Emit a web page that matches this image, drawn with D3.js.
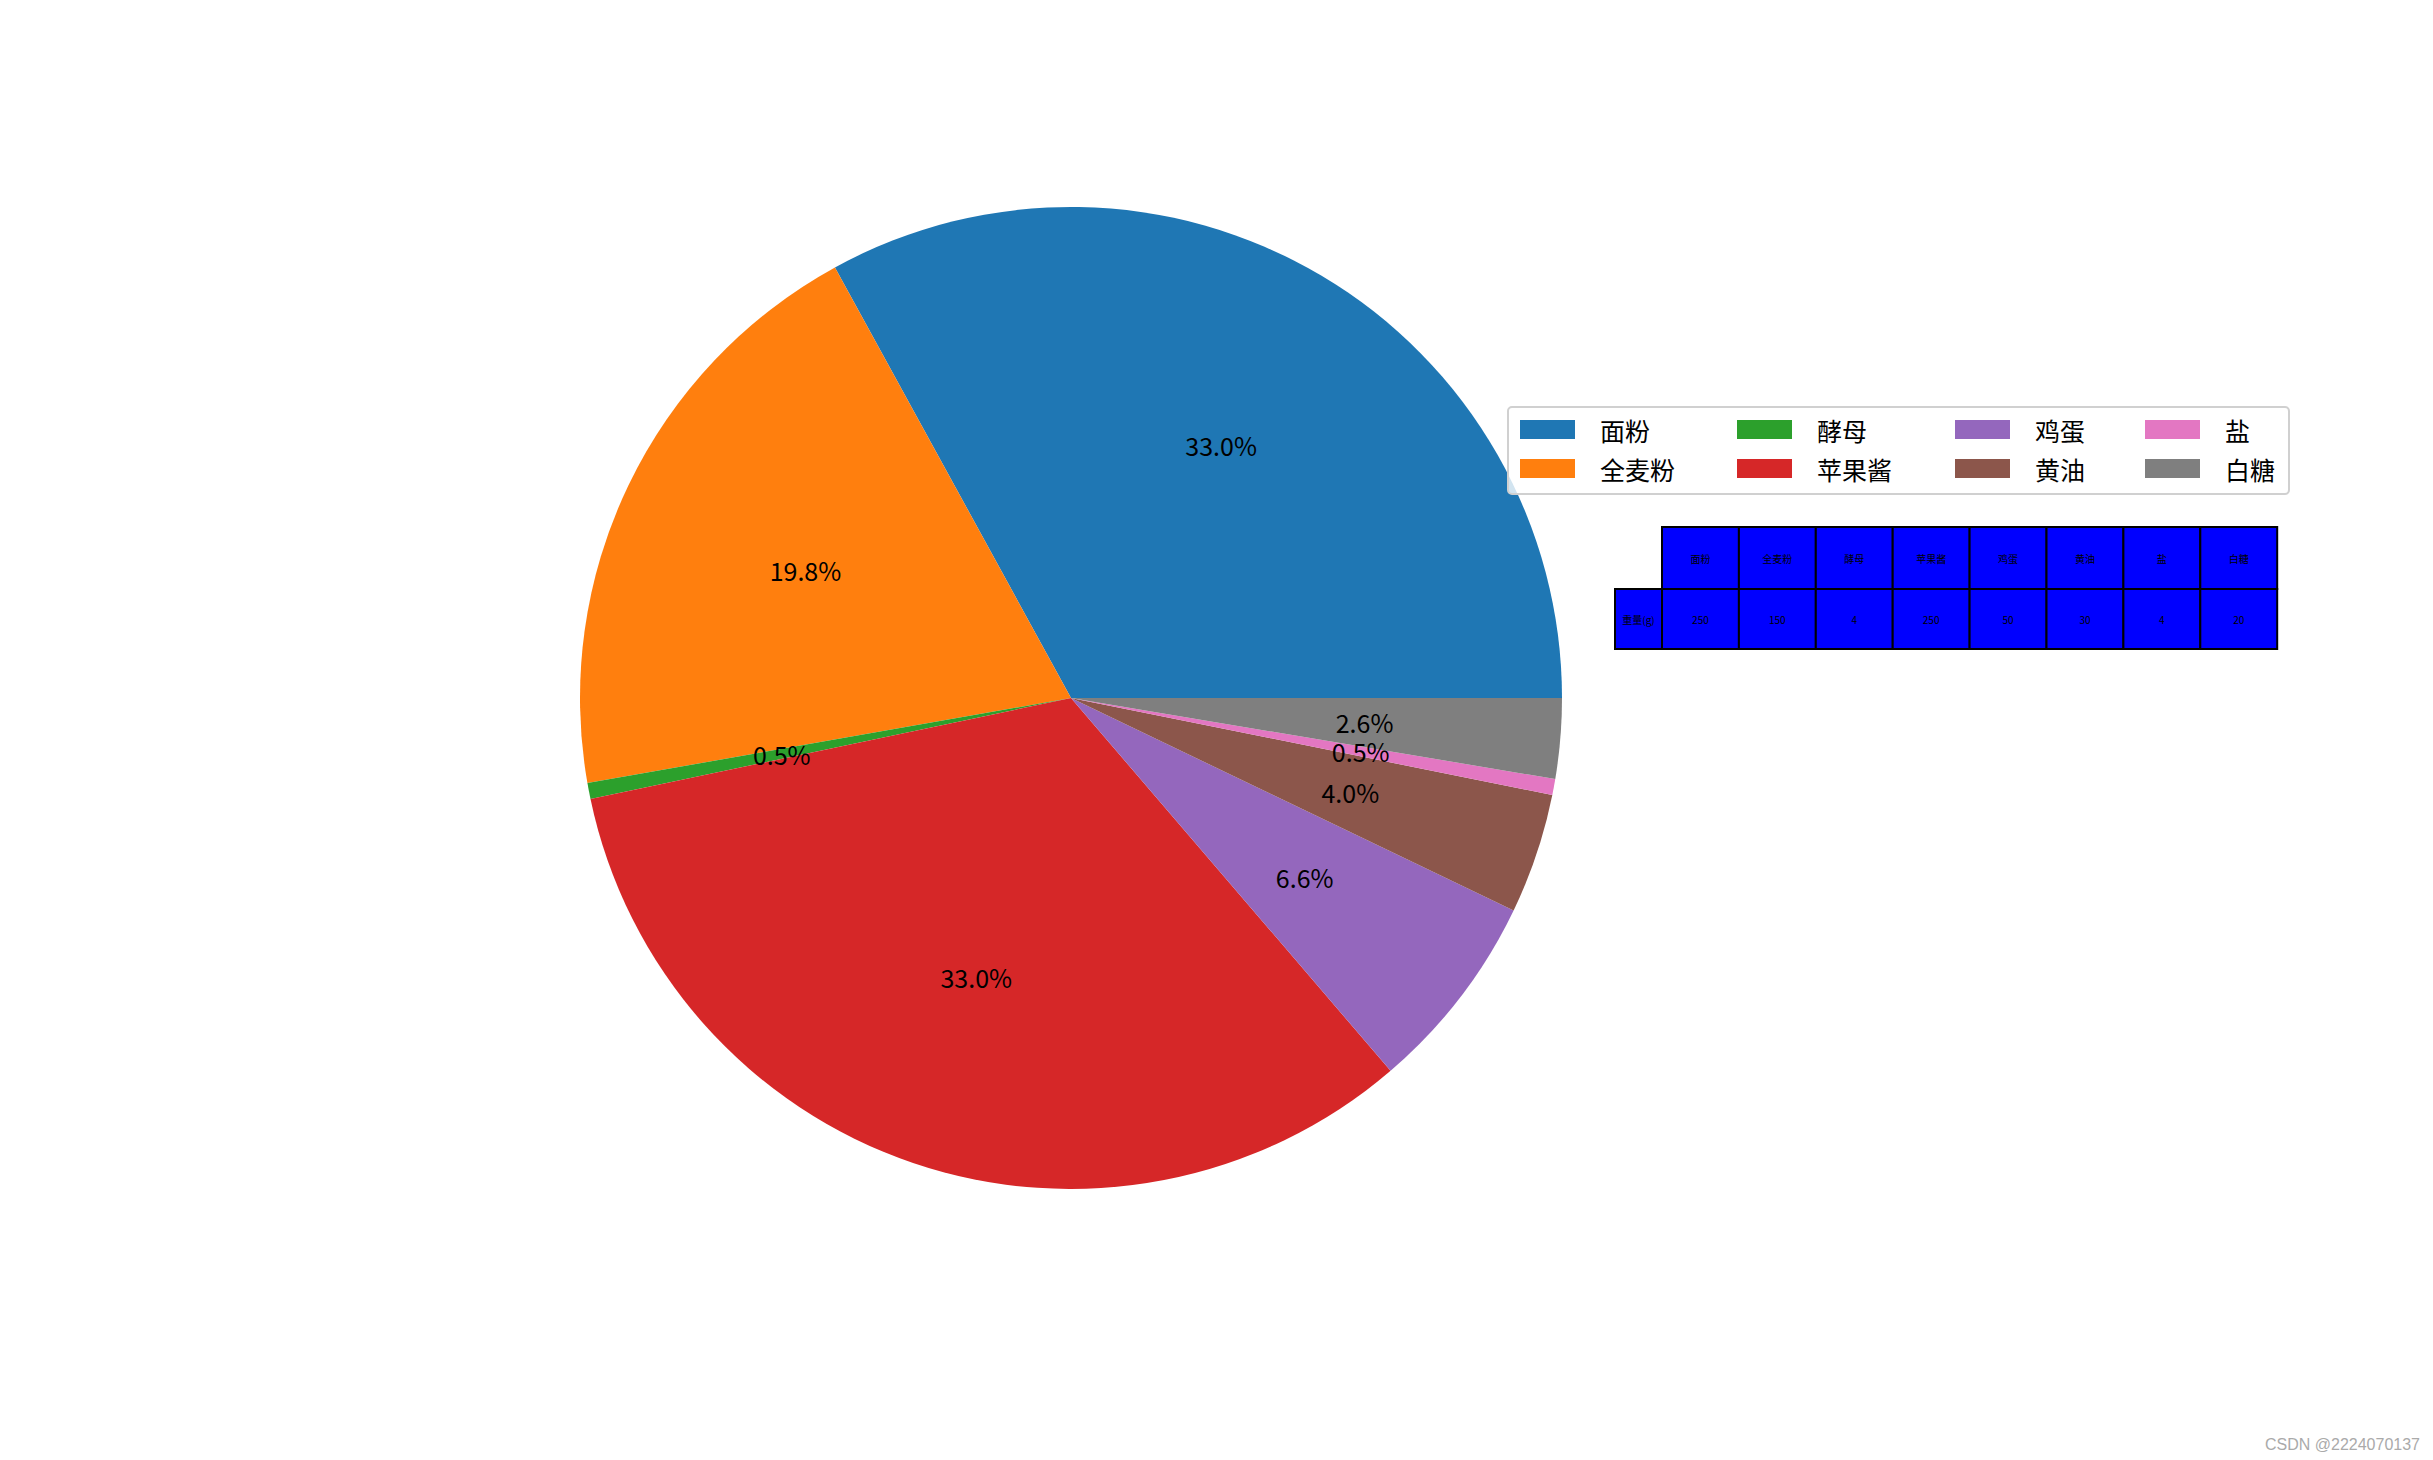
<!DOCTYPE html>
<html><head><meta charset="utf-8">
<script src="https://cdn.jsdelivr.net/npm/d3@7"></script>
<style>body{margin:0;background:#fff}svg{display:block}</style>
</head><body>
<svg id="c" width="2433" height="1460"></svg>
<script>
const categories = ["面粉","全麦粉","酵母","苹果酱","鸡蛋","黄油","盐","白糖"];
const weights = [250,150,4,250,50,30,4,20];
const colors = ["#1f77b4","#ff7f0e","#2ca02c","#d62728","#9467bd","#8c564b","#e377c2","#7f7f7f"];
const rowLabel = "重量(g)";

const svg = d3.select("#c");
const font = "'Noto Sans CJK SC', 'Noto Sans', sans-serif";
const cx = 1071, cy = 698, R = 491;
const total = d3.sum(weights);
const data = categories.map((c,i)=>({name:c, value:weights[i], color:colors[i]}));

const pie = d3.pie().value(d=>d.value).sort(null)
  .startAngle(Math.PI/2).endAngle(Math.PI/2 - 2*Math.PI);
const arcs = pie(data);
const arc = d3.arc().innerRadius(0).outerRadius(R);
const labelArc = d3.arc().innerRadius(R*0.6).outerRadius(R*0.6);
const g = svg.append("g").attr("transform",`translate(${cx},${cy})`);
g.selectAll("path").data(arcs).join("path").attr("d",arc).attr("fill",d=>d.data.color);
g.selectAll("text").data(arcs).join("text")
  .attr("transform",d=>`translate(${labelArc.centroid(d)})`)
  .attr("text-anchor","middle").attr("dominant-baseline","central")
  .attr("font-family",font).attr("font-size",25).attr("fill","#000")
  .text(d=>d3.format(".1f")(d.data.value/total*100)+"%");

// Legend
const lg = svg.append("g");
lg.append("rect").attr("x",1508).attr("y",407).attr("width",781).attr("height",87)
  .attr("rx",4).attr("fill","#fff").attr("fill-opacity",0.8).attr("stroke","#d0d0d0").attr("stroke-width",2);
const colX = [1520,1737,1955,2145];
const rowY = [430,469];
data.forEach((d,i)=>{
  const col = Math.floor(i/2), row = i%2;
  lg.append("rect").attr("x",colX[col]).attr("y",rowY[row]-10).attr("width",55).attr("height",19).attr("fill",d.color);
  lg.append("text").attr("x",colX[col]+80).attr("y",rowY[row]).attr("dominant-baseline","central")
    .attr("font-family",font).attr("font-size",25).attr("fill","#000").text(d.name);
});

// Table
const tg = svg.append("g");
const colW = 76.9, x0 = 1662, yTop = 527, rowH = 62, lblX = 1615;
const tx = d3.scaleBand().domain(categories).range([x0, x0+colW*categories.length]);
categories.forEach((c,i)=>{
  const x = tx(c);
  tg.append("rect").attr("x",x).attr("y",yTop).attr("width",tx.bandwidth()).attr("height",rowH)
    .attr("fill","#0000ff").attr("stroke","#000").attr("stroke-width",2);
  tg.append("text").attr("x",x+tx.bandwidth()/2).attr("y",yTop+rowH/2).attr("text-anchor","middle")
    .attr("dominant-baseline","central").attr("font-family",font).attr("font-size",10).text(c);
  tg.append("rect").attr("x",x).attr("y",yTop+rowH).attr("width",tx.bandwidth()).attr("height",rowH-2)
    .attr("fill","#0000ff").attr("stroke","#000").attr("stroke-width",2);
  tg.append("text").attr("x",x+tx.bandwidth()/2).attr("y",yTop+rowH+rowH/2-1).attr("text-anchor","middle")
    .attr("dominant-baseline","central").attr("font-family",font).attr("font-size",10).text(weights[i]);
});
tg.append("rect").attr("x",lblX).attr("y",yTop+rowH).attr("width",x0-lblX).attr("height",rowH-2)
  .attr("fill","#0000ff").attr("stroke","#000").attr("stroke-width",2);
tg.append("text").attr("x",(lblX+x0)/2).attr("y",yTop+rowH+rowH/2-1).attr("text-anchor","middle")
  .attr("dominant-baseline","central").attr("font-family",font).attr("font-size",10).text(rowLabel);

// watermark
svg.append("text").attr("x",2420).attr("y",1450).attr("text-anchor","end")
  .attr("font-family","'Liberation Sans', sans-serif").attr("font-size",16).attr("fill","#aaa")
  .text("CSDN @2224070137");
</script>
</body></html>
